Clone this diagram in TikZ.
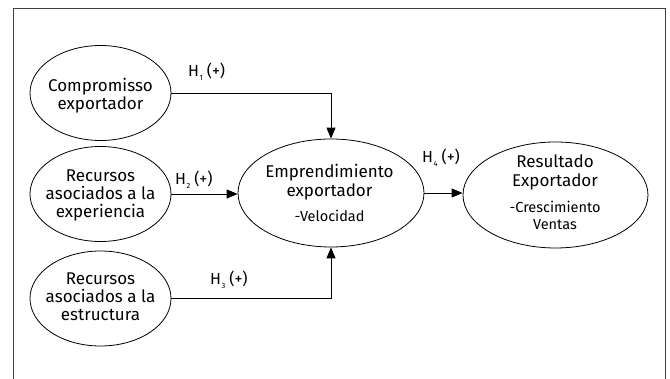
\documentclass[tikz,border=0pt]{standalone}
\usepackage{fontspec}
\setmainfont{Fira Sans}
\usetikzlibrary{shapes.geometric,arrows.meta}
\tikzset{
  oval/.style={ellipse,draw=black,line width=0.8pt,inner sep=0pt},
  big/.style={font=\fontsize{17}{19}\selectfont,inner sep=0pt,anchor=base},
  small/.style={font=\fontsize{14.5}{17}\selectfont,inner sep=0pt,anchor=base},
  hlab/.style={font=\fontsize{16}{18}\selectfont,inner sep=0pt,anchor=base west},
  arr/.style={line width=0.9pt,-{Triangle[length=11pt,width=9pt]}},
  frame/.style={draw=black!75,line width=1pt}
}
\newcommand{\hsub}[1]{H\hspace{0.5pt}\raisebox{-4pt}{\fontsize{7.5}{8}\selectfont #1}\hspace{4pt}}
\begin{document}
\begin{tikzpicture}[x=1pt,y=-1pt]
\useasboundingbox (0,0) rectangle (670,379);
\coordinate (f1) at (13.5,381);
\coordinate (f2) at (13.5,8.5);
\coordinate (f3) at (665,8.5);
\coordinate (f4) at (665,381);
\draw[frame] (f1) -- (f2) -- (f3) -- (f4);

\node[oval,minimum width=141pt,minimum height=95pt] (c) at (100.5,93) {};
\node[oval,minimum width=141pt,minimum height=95pt] (r1) at (100.5,194) {};
\node[oval,minimum width=141pt,minimum height=95pt] (r2) at (100.5,298.5) {};
\node[oval,minimum width=186pt,minimum height=108pt] (e) at (331,193) {};
\node[oval,minimum width=185pt,minimum height=106pt] (res) at (555.5,195) {};

\node[big] (c1) at (100.5,92) {Compromisso};
\node[big] (c2) at (100.5,110) {exportador};
\node[big] (r11) at (100.5,182) {Recursos};
\node[big] (r12) at (100.5,200) {asociados a la};
\node[big] (r13) at (100.5,218) {experiencia};
\node[big] (r21) at (100.5,284.5) {Recursos};
\node[big] (r22) at (100.5,303) {asociados a la};
\node[big] (r23) at (100.5,321) {estructura};
\node[big] (e1) at (329.5,178) {Emprendimiento};
\node[big] (e2) at (329.5,197) {exportador};
\node[small] (e3) at (329.5,222) {-Velocidad};
\node[big] (s1) at (555,168) {Resultado};
\node[big] (s2) at (555,187) {Exportador};
\node[small] (s3) at (555,213) {-Crescimiento};
\node[small] (s4) at (555,230) {Ventas};

\draw[arr] (c.east) -| (e.north);
\draw[arr] (r1.east) -- (r1.east -| e.west);
\draw[arr] (r2.east) -| (e.south);
\draw[arr] (e.east) -- (e.east -| res.west);

\node[hlab] (h1) at (188,77) {\hsub{1}(+)};
\node[hlab] (h2) at (175,185) {\hsub{2}(+)};
\node[hlab] (h3) at (210,285) {\hsub{3}(+)};
\node[hlab] (h4) at (422,163) {\hsub{4}(+)};
\end{tikzpicture}
\end{document}
